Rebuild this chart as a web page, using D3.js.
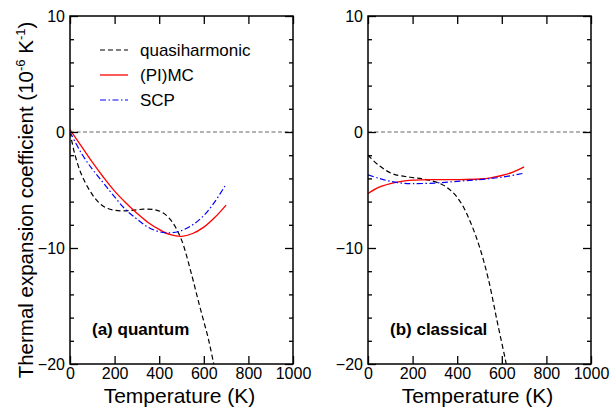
<!DOCTYPE html>
<html>
<head>
<meta charset="utf-8">
<script src="https://cdn.jsdelivr.net/npm/d3@7"></script>
<style>
  body { margin: 0; background: #fff; }
  svg { font-family: "Liberation Sans", Arial, Helvetica, sans-serif; }
</style>
</head>
<body>
<svg width="613" height="410"></svg>
<script>
// ---- data ----
const xTicks = [0, 200, 400, 600, 800, 1000];
const yMajor = [-20, -10, 0, 10];
const yMinor = [-18, -16, -14, -12, -8, -6, -4, -2, 2, 4, 6, 8];

// (a) quantum
const qhTempA = [0, 20, 50, 90, 130, 170, 230, 280, 330, 380, 420, 460, 500, 540, 580, 620, 645, 660];
const qhValA  = [0, -1.8, -3.6, -5.1, -6.1, -6.6, -6.8, -6.75, -6.65, -6.7, -7.0, -7.8, -9.3, -11.9, -14.9, -17.8, -20.0, -21.2];
const mcTempA = [0, 50, 100, 150, 200, 250, 300, 350, 400, 450, 500, 550, 600, 650, 700];
const mcValA  = [0.2, -1.2, -2.6, -3.9, -5.1, -6.1, -7.0, -7.8, -8.4, -8.85, -9.0, -8.75, -8.2, -7.35, -6.3];
const scpTempA = [0, 50, 100, 150, 200, 250, 300, 350, 400, 450, 500, 550, 600, 650, 700];
const scpValA  = [0, -1.8, -3.2, -4.4, -5.6, -6.7, -7.5, -8.2, -8.6, -8.7, -8.5, -8.0, -7.2, -6.0, -4.5];

// (b) classical
const qhTempB = [0, 50, 110, 190, 260, 330, 380, 420, 460, 500, 540, 580, 620, 640];
const qhValB  = [-2.0, -2.9, -3.6, -3.9, -4.1, -4.5, -5.2, -6.2, -7.8, -9.9, -12.7, -16.4, -20.0, -22];
const mcTempB = [0, 50, 100, 150, 200, 300, 400, 500, 550, 600, 650, 700];
const mcValB  = [-5.3, -4.75, -4.45, -4.25, -4.15, -4.1, -4.1, -4.05, -3.95, -3.75, -3.45, -3.0];
const scpTempB = [0, 50, 100, 150, 200, 300, 400, 500, 600, 700];
const scpValB  = [-3.7, -4.0, -4.25, -4.4, -4.45, -4.4, -4.25, -4.1, -3.9, -3.55];

const legendNames = ["quasiharmonic", "(PI)MC", "SCP"];
const panelLabels = ["(a) quantum", "(b) classical"];

const zip = (xs, ys) => xs.map((x, i) => ({ x: x, y: ys[i] }));

const styles = [
  { color: '#000', dash: '5,3', width: 1.2 },
  { color: '#ff0000', dash: null, width: 1.3 },
  { color: '#0000ff', dash: '6,2.5,1.5,2.5', width: 1.2 }
];

const panels = [
  { left: 70, label: panelLabels[0], legend: true,
    series: [zip(qhTempA, qhValA), zip(mcTempA, mcValA), zip(scpTempA, scpValA)] },
  { left: 368, label: panelLabels[1], legend: false,
    series: [zip(qhTempB, qhValB), zip(mcTempB, mcValB), zip(scpTempB, scpValB)] }
];

const svg = d3.select('svg');
const marginTop = 16, pw = 223, ph = 348;

panels.forEach((p, pi) => {
  const x = d3.scaleLinear().domain([0, 1000]).range([0, pw]);
  const y = d3.scaleLinear().domain([-20, 10]).range([ph, 0]);

  const g = svg.append('g').attr('transform', `translate(${p.left},${marginTop})`);

  g.append('clipPath').attr('id', 'clip' + pi)
    .append('rect').attr('width', pw).attr('height', ph);

  // zero line
  g.append('line')
    .attr('x1', 0).attr('x2', pw)
    .attr('y1', y(0)).attr('y2', y(0))
    .attr('stroke', '#666').attr('stroke-width', 1.2)
    .attr('stroke-dasharray', '4,2.5');

  // curves
  const line = d3.line()
    .x((d) => x(d.x))
    .y((d) => y(d.y))
    .curve(d3.curveCatmullRom.alpha(0.5));

  const curves = g.append('g').attr('clip-path', `url(#clip${pi})`);
  p.series.forEach((s, i) => {
    curves.append('path')
      .datum(s)
      .attr('d', line)
      .attr('fill', 'none')
      .attr('stroke', styles[i].color)
      .attr('stroke-width', styles[i].width)
      .attr('stroke-dasharray', styles[i].dash);
  });

  // axes, ticks pointing inward
  const fontSize = 16;
  g.append('g').attr('transform', `translate(0,${ph})`)
    .call(d3.axisBottom(x).tickValues(xTicks).tickFormat(d3.format('d'))
      .tickSizeInner(-8).tickSizeOuter(0).tickPadding(4));
  g.append('g')
    .call(d3.axisTop(x).tickValues(xTicks).tickSizeInner(-8).tickSizeOuter(0).tickFormat(''));
  g.append('g')
    .call(d3.axisLeft(y).tickValues(yMajor).tickSizeInner(-8).tickSizeOuter(0).tickPadding(5));
  g.append('g')
    .call(d3.axisLeft(y).tickValues(yMinor).tickSizeInner(-4).tickSizeOuter(0).tickFormat(''));
  g.append('g').attr('transform', `translate(${pw},0)`)
    .call(d3.axisRight(y).tickValues(yMajor).tickSizeInner(-8).tickSizeOuter(0).tickFormat(''));
  g.append('g').attr('transform', `translate(${pw},0)`)
    .call(d3.axisRight(y).tickValues(yMinor).tickSizeInner(-4).tickSizeOuter(0).tickFormat(''));

  g.selectAll('.domain').remove();
  g.selectAll('.tick line').attr('stroke', '#000').attr('stroke-width', 1.3);
  g.selectAll('.tick text')
    .attr('font-size', fontSize)
    .attr('font-family', '"Liberation Sans", Arial, sans-serif')
    .attr('fill', '#000');

  g.append('rect')
    .attr('width', pw).attr('height', ph)
    .attr('fill', 'none').attr('stroke', '#000').attr('stroke-width', 1.5);

  // panel label
  g.append('text')
    .attr('x', 22).attr('y', 319)
    .attr('font-size', 17).attr('font-weight', 'bold')
    .text(p.label);

  // x title
  g.append('text')
    .attr('x', pw / 2 - 2).attr('y', 387)
    .attr('text-anchor', 'middle')
    .attr('font-size', 21)
    .text('Temperature (K)');

  if (p.legend) {
    const lg = g.append('g');
    legendNames.forEach((name, i) => {
      const ly = 34 + i * 25;
      lg.append('line')
        .attr('x1', 30).attr('x2', 58)
        .attr('y1', ly).attr('y2', ly)
        .attr('stroke', styles[i].color)
        .attr('stroke-width', styles[i].width)
        .attr('stroke-dasharray', styles[i].dash);
      lg.append('text')
        .attr('x', 70).attr('y', ly)
        .attr('dy', '0.35em')
        .attr('font-size', 17)
        .text(name);
    });
  }
});

// y title
const yt = svg.append('text')
  .attr('transform', 'translate(33,200) rotate(-90)')
  .attr('text-anchor', 'middle')
  .attr('font-size', 20.5);
yt.append('tspan').text('Thermal expansion coefficient (10');
yt.append('tspan').attr('font-size', 13).attr('dy', -8).text('-6');
yt.append('tspan').attr('dy', 8).text(' K');
yt.append('tspan').attr('font-size', 13).attr('dy', -8).text('-1');
yt.append('tspan').attr('dy', 8).text(')');
</script>
</body>
</html>
